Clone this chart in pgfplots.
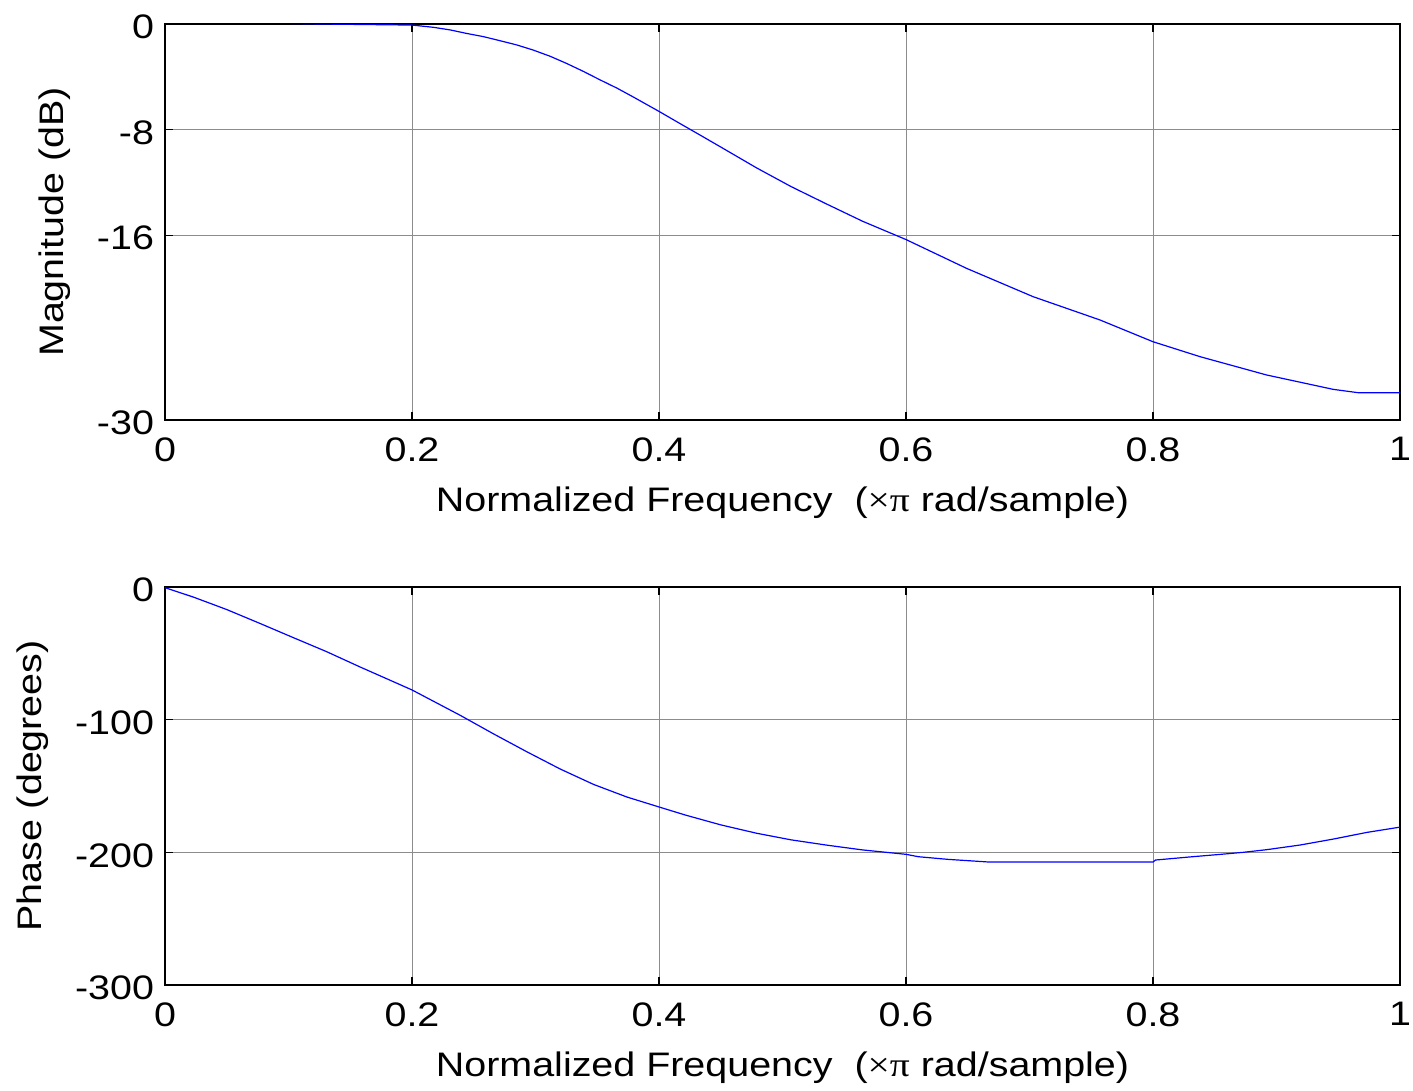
\documentclass[border=0pt]{standalone}
\usepackage{fontspec}
\setmainfont{Liberation Sans}[FakeStretch=1.16]
\newfontfamily\symfont{Liberation Serif}[FakeStretch=1.16]
\usepackage{pgfplots}
\pgfplotsset{compat=1.18}
\definecolor{mblue}{RGB}{0,0,255}
\pgfplotsset{
  common/.style={
    scale only axis,
    width=617.5bp,
    xmin=0, xmax=1,
    xtick={0,0.2,0.4,0.6,0.8,1},
    xticklabels={0,0.2,0.4,0.6,0.8,1},
    xtick pos=both, ytick pos=both,
    tick align=inside,
    major tick length=4bp,
    tick style={black, line width=0.6bp},
    axis line style={black, line width=0.6bp},
    grid=major,
    major grid style={black!45, line width=0.5bp},
    tick label style={font=\fontsize{17bp}{20bp}\selectfont},
    label style={font=\fontsize{17bp}{20bp}\selectfont},
    xticklabel style={yshift=-5.2bp},
    yticklabel style={xshift=-2bp, yshift=-1.5bp},
    xlabel={Normalized Frequency~~({\symfont ×π} rad/sample)},
    clip=true,
  }
}
\begin{document}
\begin{tikzpicture}
\useasboundingbox (-82.5bp,-335.5bp) rectangle (624bp,210bp);
\begin{axis}[common, at={(0,0)}, anchor=south west, height=198bp,
  ymin=-30, ymax=0, ytick={-30,-16,-8,0}, yticklabels={-30,-16,-8,0},
  ylabel={Magnitude (dB)},
  ylabel style={at={(axis description cs:-0.0891,0.5)}, anchor=center},
  xlabel style={at={(axis description cs:0.5,-0.2096)}, anchor=center}]
\addplot[mblue, line width=0.6bp] coordinates {
(0,0.05) (0.1,0.05) (0.125,0) (0.2,-0.08) (0.2173,-0.25) (0.231,-0.45)
(0.244,-0.71) (0.258,-0.96) (0.271,-1.26) (0.285,-1.59) (0.298,-1.97)
(0.312,-2.45) (0.325,-2.98) (0.339,-3.6) (0.352,-4.22) (0.366,-4.86)
(0.379,-5.52) (0.4,-6.62) (0.419,-7.65) (0.433,-8.4) (0.45,-9.32)
(0.479,-10.9) (0.507,-12.32) (0.536,-13.65) (0.565,-14.95) (0.6,-16.33)
(0.649,-18.51) (0.703,-20.66) (0.757,-22.42) (0.8,-24.07) (0.838,-25.2)
(0.892,-26.59) (0.946,-27.68) (0.966,-27.93) (1.0,-27.93)
};
\end{axis}
\begin{axis}[common, at={(0,-83.5bp)}, anchor=north west, height=199bp,
  ymin=-300, ymax=0, ytick={-300,-200,-100,0}, yticklabels={-300,-200,-100,0},
  ylabel={Phase (degrees)},
  ylabel style={at={(axis description cs:-0.1069,0.5)}, anchor=center},
  xlabel style={at={(axis description cs:0.5,-0.2085)}, anchor=center}]
\addplot[mblue, line width=0.6bp] coordinates {
(0,-0.5) (0.023,-7.6) (0.05,-17.0) (0.077,-27.5) (0.104,-38.2)
(0.131,-48.8) (0.158,-60.3) (0.185,-71.4) (0.2,-77.6) (0.239,-96.7)
(0.266,-110.7) (0.293,-124.2) (0.32,-137.2) (0.347,-148.8) (0.374,-158.3)
(0.4,-165.8) (0.421,-171.8) (0.45,-179.3) (0.479,-185.6) (0.507,-190.6)
(0.536,-194.6) (0.565,-198.2) (0.6,-201.5) (0.61,-203.3) (0.634,-205.3)
(0.667,-207.3) (0.8,-207.3) (0.802,-205.8) (0.832,-203.3) (0.855,-201.5)
(0.873,-200) (0.892,-198) (0.919,-194.5) (0.946,-190) (0.973,-185) (1.0,-181)
};
\end{axis}
\end{tikzpicture}
\end{document}
